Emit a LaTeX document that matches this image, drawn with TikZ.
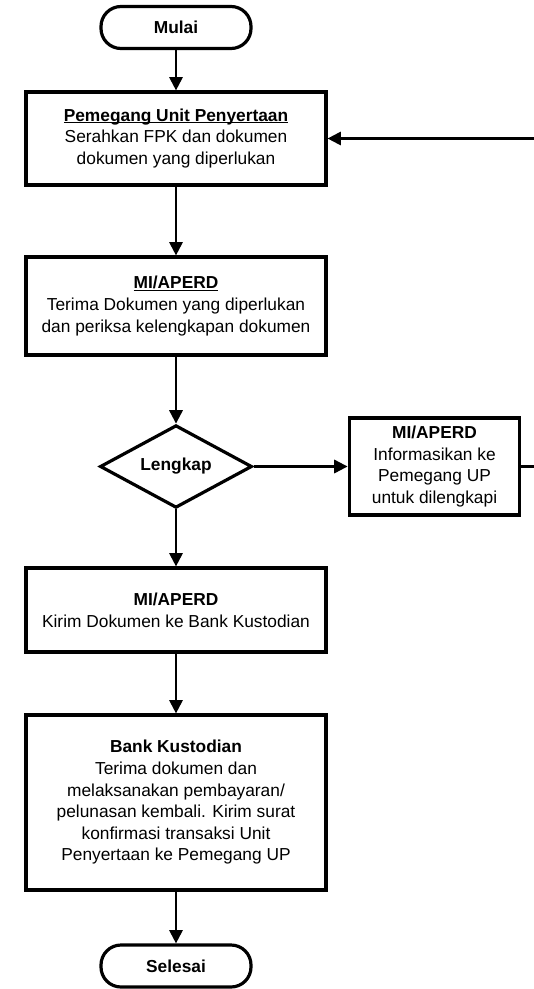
\documentclass[tikz,border=0pt]{standalone}
\usepackage{fontspec}
\setmainfont{Liberation Sans}
\usepackage{tikz}
\usetikzlibrary{shapes.geometric, arrows.meta, positioning}

% bold title, underline close to the baseline
\newcommand{\ultitle}[1]{\setbox0\hbox{\textbf{#1}}\rlap{\rule[-1.5pt]{\wd0}{1pt}}\box0}

\tikzset{
  procbox/.style={draw, line width=2.4pt, minimum width=225pt, align=center,
    inner sep=1pt, font=\fontsize{13}{16.2}\selectfont},
  termbox/.style={draw, line width=2.4pt, rounded corners=15pt, minimum width=112.5pt,
    minimum height=31.5pt, font=\fontsize{13}{15}\selectfont\bfseries},
  decbox/.style={draw, diamond, line width=2.4pt, aspect=1.83, minimum width=114pt,
    minimum height=62pt, inner sep=0pt, font=\fontsize{13}{15}\selectfont\bfseries},
  conn/.style={line width=1.6pt, -{Triangle[length=10pt,width=10pt]}}
}

\begin{document}
\begin{tikzpicture}[x=0.75pt,y=-0.75pt]
  % Page frame (reference proportions)
  \path[use as bounding box, fill=white] (0,0) rectangle (534,989);

  % Start and end
  \node[termbox] (mulai) at (176,27.5) {Mulai};
  \node[termbox] (selesai) at (176,966) {Selesai};

  % Main steps
  \node[procbox, minimum height=69.75pt] (serah) at (176,138.5)
    {\ultitle{Pemegang Unit Penyertaan}\\Serahkan FPK dan dokumen\\dokumen yang diperlukan};
  \node[procbox, minimum height=73.5pt] (periksa) at (176,306)
    {\ultitle{MI/APERD}\\Terima Dokumen yang diperlukan\\dan periksa kelengkapan dokumen};
  \node[decbox] (lengkap) at (176,466.5) {Lengkap};
  \node[procbox, minimum width=128pt, minimum height=72.75pt, inner sep=0pt] (info) at (434.5,466.5)
    {\textbf{MI/APERD}\\Informasikan ke\\Pemegang UP\\untuk dilengkapi};
  \node[procbox, minimum height=63pt] (kirim) at (176,610)
    {\textbf{MI/APERD}\\Kirim Dokumen ke Bank Kustodian};
  \node[procbox, minimum height=131.25pt] (bank) at (176,802.5)
    {\textbf{Bank Kustodian}\\Terima dokumen dan\\melaksanakan pembayaran/\\pelunasan kembali. Kirim surat\\konfirmasi transaksi Unit\\Penyertaan ke Pemegang UP};

  % Flow
  \draw[conn] (mulai) -- (serah);
  \draw[conn] (serah) -- (periksa);
  \draw[conn] (periksa) -- (lengkap);
  \draw[conn] (lengkap) -- (kirim);
  \draw[conn] (kirim) -- (bank);
  \draw[conn] (bank) -- (selesai);
  \draw[conn] (lengkap) -- (info);

  % Back to the holder (runs off the right edge)
  \coordinate (back) at (545,138.5);
  \draw[conn] (info.east) -- (info.east -| back) -- (back) -- (serah.east);
\end{tikzpicture}
\end{document}
